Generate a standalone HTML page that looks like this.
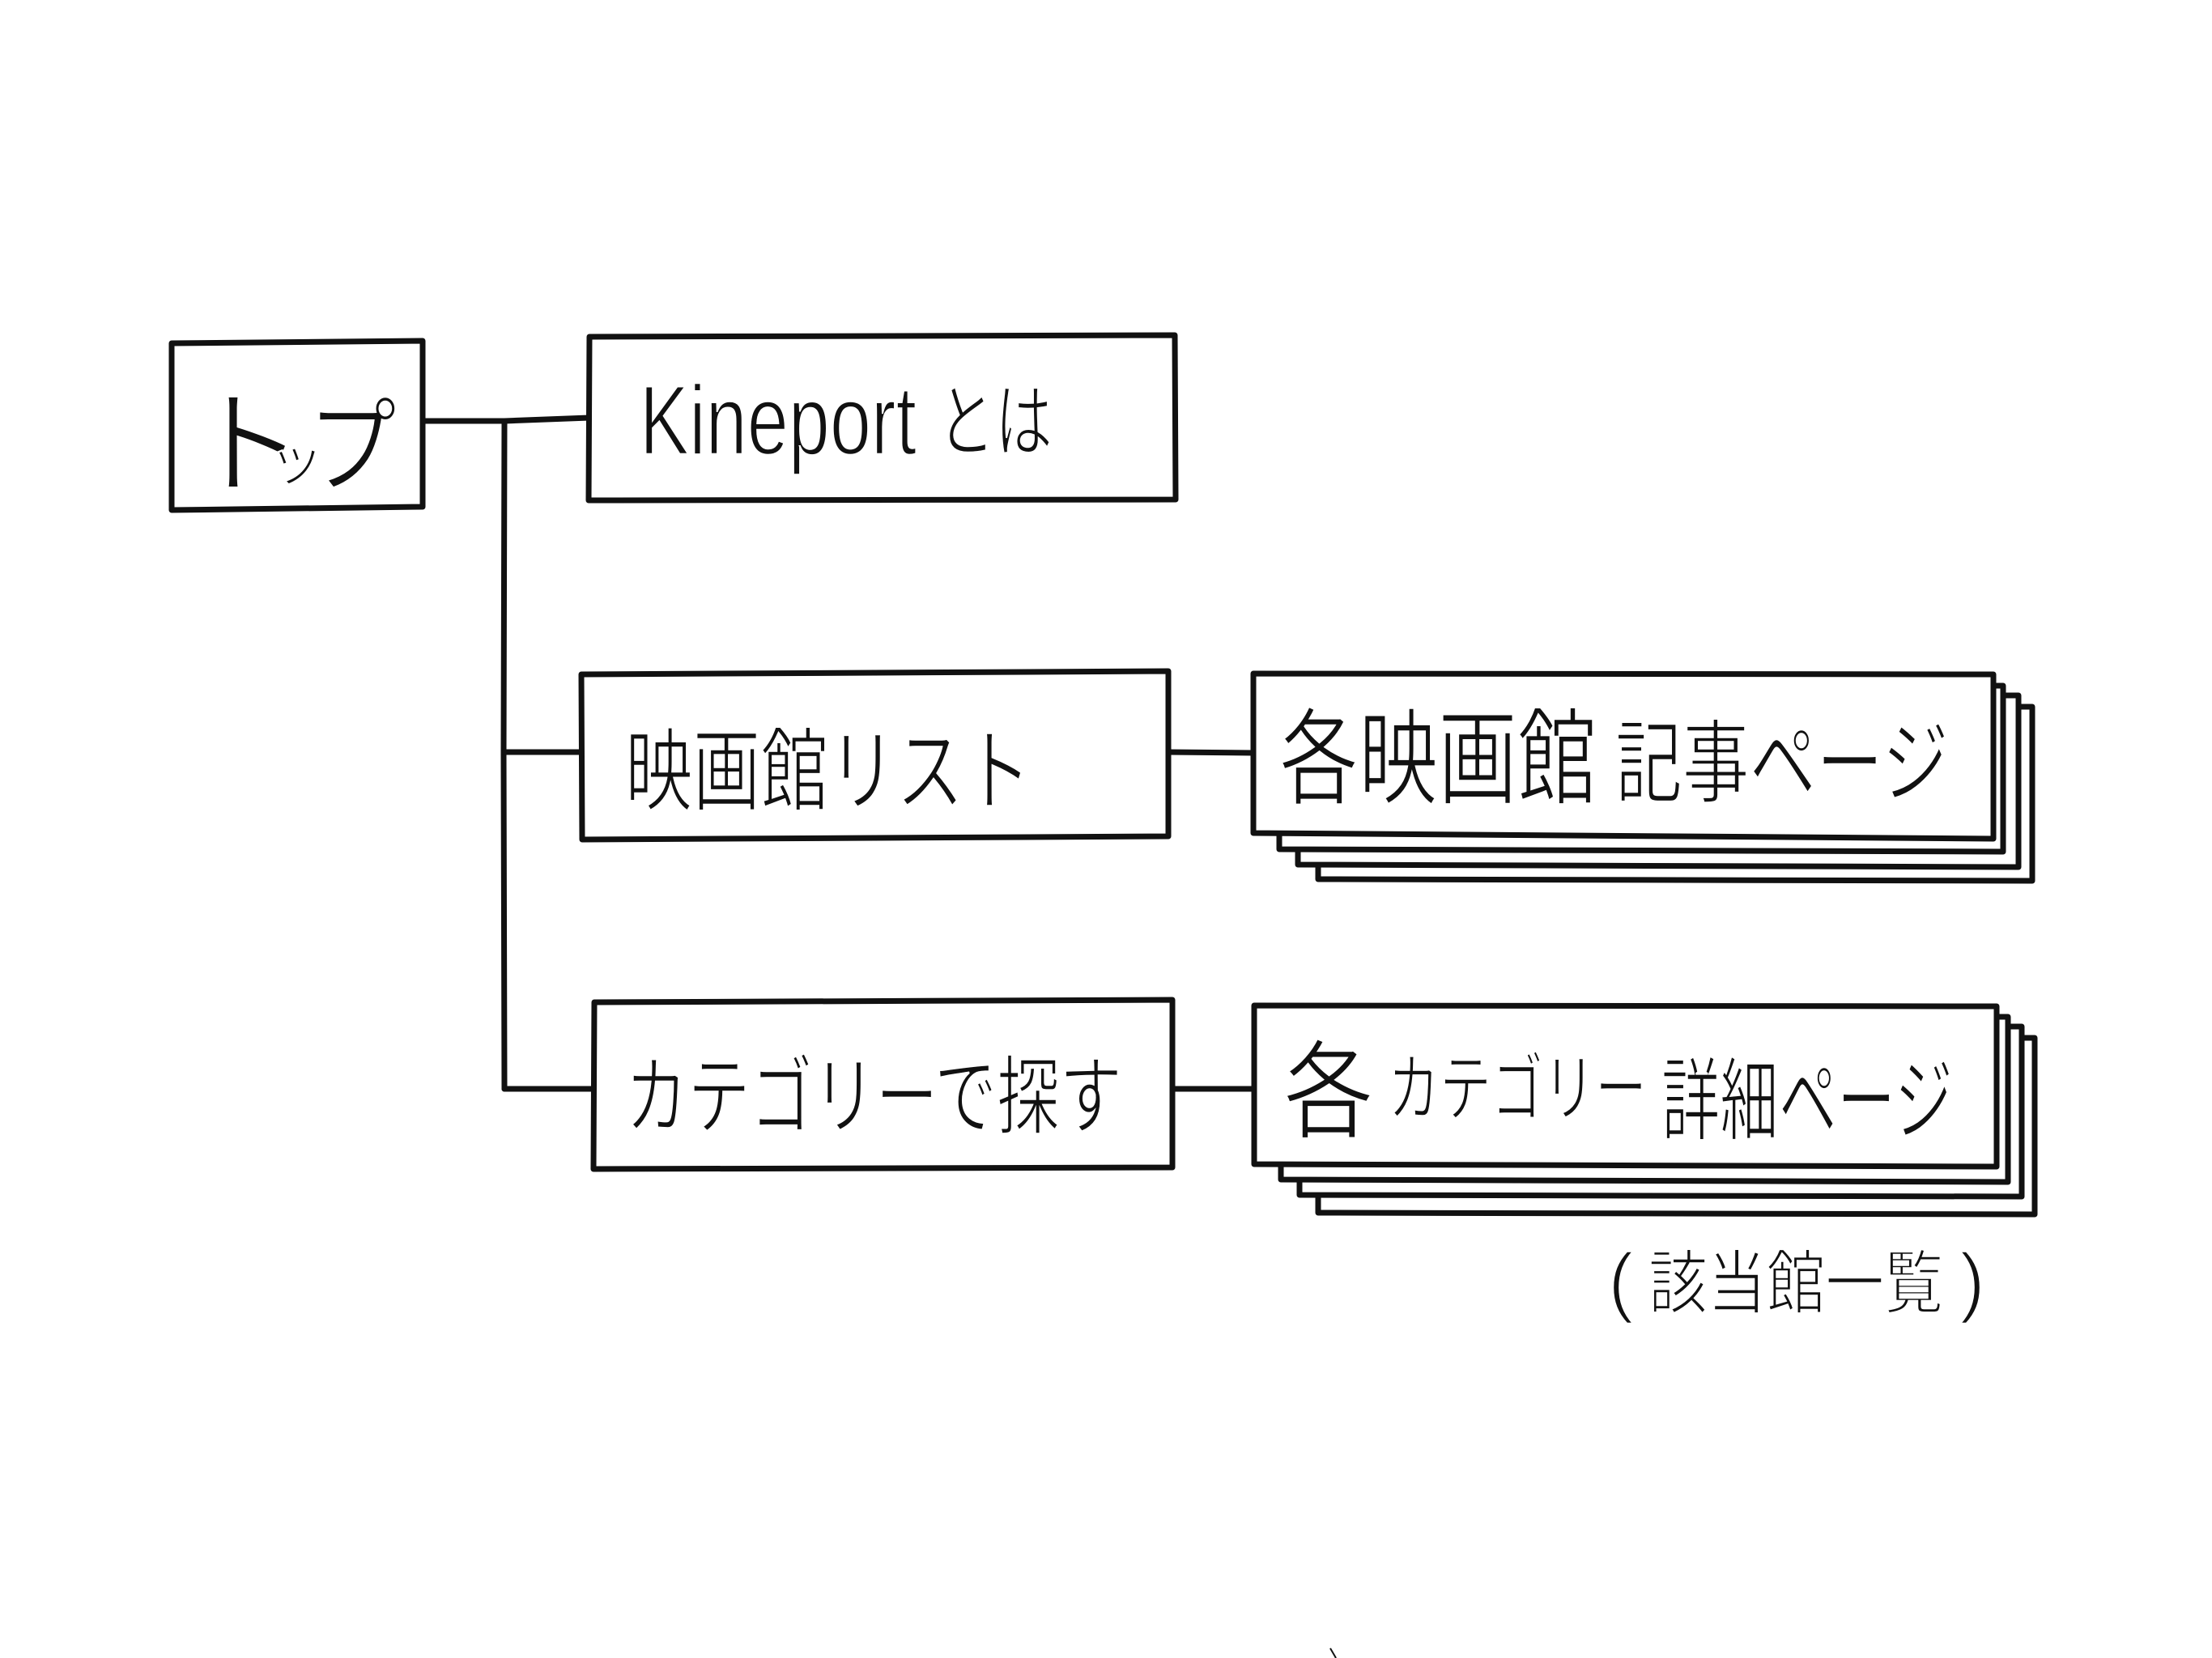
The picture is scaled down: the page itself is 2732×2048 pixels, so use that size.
<!DOCTYPE html>
<html><head><meta charset="utf-8"><style>
html,body{margin:0;padding:0;background:#fff;}
svg{display:block;}
text{fill:#111;stroke:#fff;stroke-width:2.5px;}
.jp{font-family:"Liberation Sans","Noto Sans CJK JP",sans-serif;}
.la{font-family:"Liberation Sans",sans-serif;}
</style></head><body>
<svg width="2732" height="2048" viewBox="0 0 2732 2048" xmlns="http://www.w3.org/2000/svg">
<rect width="2732" height="2048" fill="#fff"/>
<g fill="none" stroke="#111" stroke-width="7" stroke-linejoin="round" stroke-linecap="round">
  <!-- top box -->
  <path d="M212 424 L522 421 L522 626 L212 630 Z" fill="#fff"/>
  <!-- connectors -->
  <path d="M522 520 L623 520 L728 516"/>
  <path d="M623 520 L622 930 L623 1345"/>
  <path d="M622 929 L718 929"/>
  <path d="M623 1345 L733 1345"/>
  <path d="M1443 929 L1548 930"/>
  <path d="M1448 1345 L1549 1345"/>
  <!-- Kineport box -->
  <path d="M728 416 L1451 414 L1452 617 L727 618 Z" fill="#fff"/>
  <!-- 映画館リスト box -->
  <path d="M718 833 L1443 829 L1443 1033 L719 1037 Z" fill="#fff"/>
  <!-- カテゴリーで探す box -->
  <path d="M734 1238 L1448 1235 L1448 1442 L733 1444 Z" fill="#fff"/>
  <!-- stack 1 -->
  <path d="M1628 873 L2510 873 L2510 1088 L1628 1086 Z" fill="#fff"/>
  <path d="M1603 859 L2493 859 L2493 1071 L1603 1068 Z" fill="#fff"/>
  <path d="M1580 847 L2474 847 L2474 1052 L1580 1049 Z" fill="#fff"/>
  <path d="M1548 832 L2462 833 L2462 1036 L1548 1029 Z" fill="#fff"/>
  <!-- stack 2 -->
  <path d="M1628 1282 L2513 1282 L2513 1500 L1628 1498 Z" fill="#fff"/>
  <path d="M1605 1268 L2497 1268 L2497 1478 L1605 1476 Z" fill="#fff"/>
  <path d="M1582 1256 L2480 1256 L2480 1460 L1582 1457 Z" fill="#fff"/>
  <path d="M1549 1242 L2466 1243 L2466 1441 L1549 1438 Z" fill="#fff"/>
</g>
<path d="M1643 2036 L1650 2048" stroke="#111" stroke-width="2" fill="none"/>

<!-- texts -->
<text class="jp" x="235" y="598" font-size="140">ト</text>
<text class="jp" x="331" y="593" font-size="70">ッ</text>
<text class="jp" x="380" y="598" font-size="130" textLength="110" lengthAdjust="spacingAndGlyphs">プ</text>

<text class="la" x="790" y="561" font-size="122" textLength="342" lengthAdjust="spacingAndGlyphs">Kineport</text>
<text class="jp" x="1158" y="556" font-size="100" textLength="142" lengthAdjust="spacingAndGlyphs">とは</text>

<text class="jp" x="772" y="992" font-size="112" textLength="502" lengthAdjust="spacingAndGlyphs">映画館リスト</text>
<text class="jp" x="772" y="1392" font-size="106" textLength="614" lengthAdjust="spacingAndGlyphs">カテゴリーで探す</text>

<text class="jp" x="1580" y="983" font-size="130" textLength="392" lengthAdjust="spacingAndGlyphs">各映画館</text>
<text class="jp" x="1995" y="982" font-size="112" textLength="412" lengthAdjust="spacingAndGlyphs">記事ページ</text>

<text class="jp" x="1585" y="1395" font-size="132" textLength="112" lengthAdjust="spacingAndGlyphs">各</text>
<text class="jp" x="1714" y="1377" font-size="92" textLength="320" lengthAdjust="spacingAndGlyphs">カテゴリー</text>
<text class="jp" x="2052" y="1399" font-size="112" textLength="360" lengthAdjust="spacingAndGlyphs">詳細ページ</text>

<text class="la" x="1986" y="1615" font-size="96">(</text>
<text class="jp" x="2036" y="1615" font-size="86" textLength="364" lengthAdjust="spacingAndGlyphs">該当館一覧</text>
<text class="la" x="2420" y="1615" font-size="96">)</text>
</svg>
</body></html>
